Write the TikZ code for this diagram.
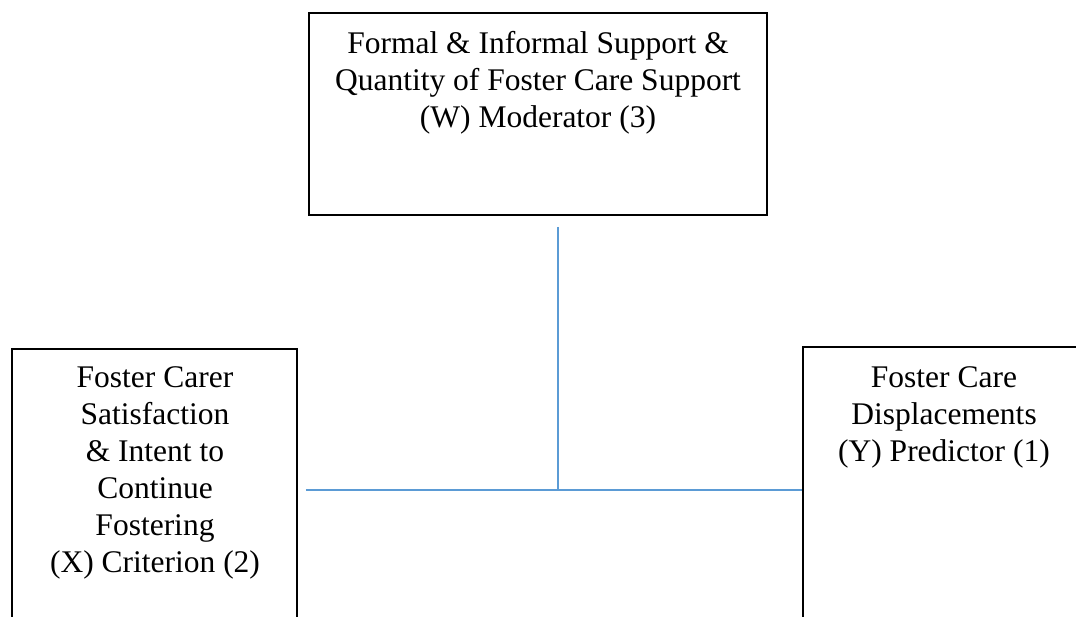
\documentclass[tikz,border=0pt]{standalone}
\usepackage{fontspec}
\setmainfont{Liberation Serif}
\definecolor{linkblue}{RGB}{91,155,213}
\begin{document}
\begin{tikzpicture}[x=1pt,y=-1pt,
  box/.style={draw=black, line width=1.5pt, inner sep=0pt, rectangle},
  label/.style={inner sep=0pt, anchor=north, align=center, font=\fontsize{31.5}{37}\selectfont},
  conn/.style={draw=linkblue, line width=1.2pt}]
\useasboundingbox (0,0) rectangle (1076,617);
\clip (0,0) rectangle (1076,617);
\node[box, minimum width=458pt, minimum height=202pt] (W) at (538,114) {};
\node[box, minimum width=285pt, minimum height=351pt] (X) at (154.5,524.5) {};
\node[box, minimum width=282pt, minimum height=353pt] (Y) at (944,523.5) {};
\node[label] (Wt) at (538,31) {Formal \& Informal Support \&\\Quantity of Foster Care Support\\(W) Moderator (3)};
\node[label] (Xt) at (155,366.5) {Foster Carer\\Satisfaction\\\& Intent to\\Continue\\Fostering\\(X) Criterion (2)};
\node[label] (Yt) at (944,366) {Foster Care\\Displacements\\(Y) Predictor (1)};
\coordinate (Wb) at (558,227);
\coordinate (J) at (558,490);
\draw[conn] (Wb) -- (J);
\draw[conn] ([xshift=8pt]X.east |- J) -- (Y.west |- J);
\end{tikzpicture}
\end{document}
